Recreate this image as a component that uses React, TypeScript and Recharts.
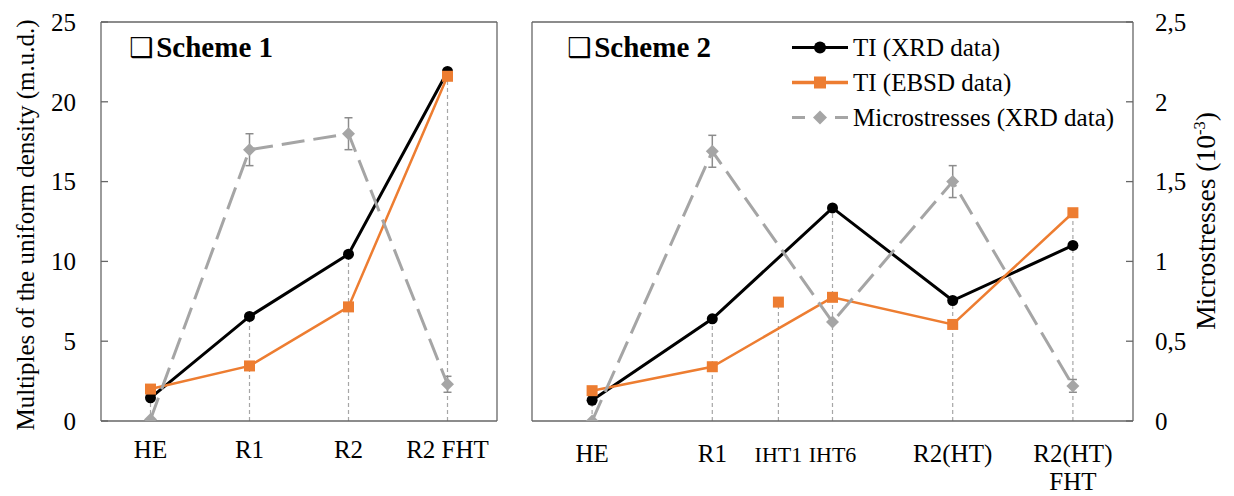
import React from 'react';
import { ComposedChart, Line, XAxis, YAxis, ReferenceLine, ErrorBar } from 'recharts';

const FONT = '"Liberation Serif", "Times New Roman", serif';
const FRAME = '#666666';
const BLACK = '#000000';
const ORANGE = '#ED7D31';
const GRAY = '#A5A5A5';
const DROP = '#A6A6A6';

// Scheme 1
const s1Labels = [['HE'], ['R1'], ['R2'], ['R2 FHT']];
const s1Pos = [0, 1, 2, 3];
const s1TiXrd = [1.45, 6.55, 10.45, 21.9];
const s1TiEbsd = [2.0, 3.45, 7.15, 21.6];
const s1Micro = [0.01, 1.7, 1.8, 0.23];
const s1MicroErr = [0, 0.1, 0.1, 0.05];

// Scheme 2 (IHT1 has only an EBSD value, not joined to the line)
const s2Labels = [['HE'], ['R1'], ['IHT1'], ['IHT6'], ['R2(HT)'], ['R2(HT)', 'FHT']];
const s2Pos = [0, 1, 1.55, 2, 3, 4];
const s2TiXrd = [1.3, 6.4, null, 13.35, 7.55, 11.0];
const s2TiEbsd = [1.9, 3.4, 7.45, 7.75, 6.05, 13.05];
const s2EbsdJoined = [true, true, false, true, true, true];
const s2Micro = [0.0, 1.69, null, 0.62, 1.5, 0.22];
const s2MicroErr = [0, 0.1, null, 0, 0.1, 0.04];

const tiTicks = [0, 5, 10, 15, 20, 25];
const msTicks = [0, 0.5, 1, 1.5, 2, 2.5];

type Pt = { x: number; y: number; e?: number };

const toPoints = (pos: number[], vals: (number | null)[], err?: (number | null)[], keep?: boolean[]): Pt[] =>
  pos
    .map((x, i) => ({ x, y: vals[i] as number, e: err ? (err[i] as number) : undefined, ok: keep ? keep[i] : true }))
    .filter((p) => p.y != null && p.ok)
    .map(({ x, y, e }) => ({ x, y, e }));

const dropPoints = (pos: number[], a: (number | null)[], b: (number | null)[]) =>
  pos.map((x, i) => ({ x, top: Math.max(a[i] ?? 0, b[i] ?? 0) }));

const circleDot = (props: any) => {
  const { cx, cy, index } = props;
  if (cx == null || cy == null) return <g key={index} />;
  return <circle key={index} cx={cx} cy={cy} r={5.5} fill={BLACK} />;
};

const squareDot = (props: any) => {
  const { cx, cy, index } = props;
  if (cx == null || cy == null) return <g key={index} />;
  return <rect key={index} x={cx - 5.5} y={cy - 5.5} width={11} height={11} fill={ORANGE} />;
};

const diamondDot = (props: any) => {
  const { cx, cy, index } = props;
  if (cx == null || cy == null) return <g key={index} />;
  const r = 6.5;
  return <polygon key={index} points={`${cx},${cy - r} ${cx + r},${cy} ${cx},${cy + r} ${cx - r},${cy}`} fill={GRAY} />;
};

const makeXTick = (labels: string[][], pos: number[], firstDy: number, small: string[] = []) => (props: any) => {
  const { x, y, payload } = props;
  const i = pos.indexOf(payload.value);
  if (i < 0) return <g />;
  const isSmall = small.includes(labels[i][0]);
  return (
    <text x={x} y={y} textAnchor="middle" fontFamily={FONT} fontSize={isSmall ? 22 : 25} fill="#000">
      {labels[i].map((t, k) => (
        <tspan key={k} x={x} dy={k === 0 ? firstDy : 28}>
          {t}
        </tspan>
      ))}
    </text>
  );
};

const commaFmt = (v: number) => String(v).replace('.', ',');

const yTick = { fontFamily: FONT, fontSize: 25, fill: '#000' };

function Panel(props: {
  left: number;
  width: number;
  leftAxisWidth: number;
  rightAxisWidth: number;
  showLeftLabels: boolean;
  showRightLabels: boolean;
  labels: string[][];
  pos: number[];
  domain: [number, number];
  xrd: (number | null)[];
  ebsd: (number | null)[];
  ebsdJoined?: boolean[];
  micro: (number | null)[];
  microErr: (number | null)[];
  labelDy: number;
  smallLabels?: string[];
}) {
  const xrdPts = toPoints(props.pos, props.xrd);
  const ebsdPts = toPoints(props.pos, props.ebsd, undefined, props.ebsdJoined);
  const ebsdLone = props.ebsdJoined
    ? toPoints(props.pos, props.ebsd, undefined, props.ebsdJoined.map((v) => !v))
    : [];
  const microPts = toPoints(props.pos, props.micro, props.microErr);
  const drops = dropPoints(props.pos, props.xrd, props.ebsd);

  return (
    <div style={{ position: 'absolute', left: props.left, top: 0 }}>
      <ComposedChart width={props.width} height={496} margin={{ top: 22, right: 0, bottom: 0, left: 0 }}>
        <XAxis
          dataKey="x"
          type="number"
          domain={props.domain}
          ticks={props.pos}
          interval={0}
          height={75}
          tickSize={0}
          tickLine={false}
          tickMargin={0}
          axisLine={{ stroke: FRAME, strokeWidth: 1.3 }}
          tick={makeXTick(props.labels, props.pos, props.labelDy, props.smallLabels)}
          allowDataOverflow
        />
        <YAxis
          yAxisId="ti"
          domain={[0, 25]}
          ticks={tiTicks}
          width={props.leftAxisWidth}
          axisLine={{ stroke: FRAME, strokeWidth: 1.3 }}
          tickLine={{ stroke: FRAME, strokeWidth: 1.3 }}
          tickSize={-7}
          tickMargin={32}
          tick={props.showLeftLabels ? yTick : false}
          allowDataOverflow
        />
        <YAxis
          yAxisId="ms"
          orientation="right"
          domain={[0, 2.5]}
          ticks={msTicks}
          width={props.rightAxisWidth}
          axisLine={{ stroke: FRAME, strokeWidth: 1.3 }}
          tickLine={{ stroke: FRAME, strokeWidth: 1.3 }}
          tickSize={-7}
          tickMargin={29}
          tickFormatter={commaFmt}
          tick={props.showRightLabels ? yTick : false}
          allowDataOverflow
        />
        <ReferenceLine yAxisId="ti" y={25} stroke={FRAME} strokeWidth={1.3} />
        {drops.map((d, i) => (
          <ReferenceLine
            key={i}
            yAxisId="ti"
            segment={[
              { x: d.x, y: 0 },
              { x: d.x, y: d.top },
            ]}
            stroke={DROP}
            strokeWidth={1.2}
            strokeDasharray="4 3"
          />
        ))}
        <Line
          yAxisId="ti"
          data={xrdPts}
          dataKey="y"
          stroke={BLACK}
          strokeWidth={3}
          dot={circleDot}
          isAnimationActive={false}
        />
        <Line
          yAxisId="ti"
          data={ebsdPts}
          dataKey="y"
          stroke={ORANGE}
          strokeWidth={2.5}
          dot={squareDot}
          isAnimationActive={false}
        />
        {ebsdLone.length > 0 && (
          <Line
            yAxisId="ti"
            data={ebsdLone}
            dataKey="y"
            stroke="none"
            dot={squareDot}
            isAnimationActive={false}
          />
        )}
        <Line
          yAxisId="ms"
          data={microPts}
          dataKey="y"
          stroke={GRAY}
          strokeWidth={3}
          strokeDasharray="23 9"
          dot={diamondDot}
          isAnimationActive={false}
        >
          <ErrorBar dataKey="e" width={4} stroke="#8c8c8c" strokeWidth={1.5} direction="y" />
        </Line>
      </ComposedChart>
    </div>
  );
}

function SchemeTitle({ left, text }: { left: number; text: string }) {
  return (
    <div
      style={{
        position: 'absolute',
        left,
        top: 47,
        transform: 'translateY(-50%)',
        fontFamily: FONT,
        fontWeight: 'bold',
        fontSize: 29,
        whiteSpace: 'nowrap',
        lineHeight: 1,
        display: 'flex',
        alignItems: 'center',
      }}
    >
      <span style={{ fontFamily: '"DejaVu Sans", sans-serif', fontWeight: 'normal', fontSize: 27, marginRight: 3 }}>❑</span>
      <span>{text}</span>
    </div>
  );
}

function LegendRow({ top, kind, text }: { top: number; kind: 'xrd' | 'ebsd' | 'ms'; text: string }) {
  return (
    <div
      style={{
        position: 'absolute',
        left: 792,
        top,
        transform: 'translateY(-50%)',
        display: 'flex',
        alignItems: 'center',
        fontFamily: FONT,
        fontSize: 25,
        whiteSpace: 'nowrap',
        lineHeight: 1,
      }}
    >
      <svg width={56} height={20} style={{ marginRight: 5 }}>
        {kind === 'xrd' && (
          <>
            <line x1={0} y1={10} x2={56} y2={10} stroke={BLACK} strokeWidth={3} />
            <circle cx={28} cy={10} r={6} fill={BLACK} />
          </>
        )}
        {kind === 'ebsd' && (
          <>
            <line x1={0} y1={10} x2={56} y2={10} stroke={ORANGE} strokeWidth={3.5} />
            <rect x={22} y={4} width={12} height={12} fill={ORANGE} />
          </>
        )}
        {kind === 'ms' && (
          <>
            <line x1={0} y1={10} x2={13} y2={10} stroke={GRAY} strokeWidth={3} />
            <line x1={43} y1={10} x2={56} y2={10} stroke={GRAY} strokeWidth={3} />
            <polygon points="28,3 35,10 28,17 21,10" fill={GRAY} />
          </>
        )}
      </svg>
      <span>{text}</span>
    </div>
  );
}

export default function App() {
  return (
    <div style={{ position: 'absolute', left: 0, top: 0, width: 1234, height: 496, background: '#fff', overflow: 'hidden' }}>
      <Panel
        left={0}
        width={520}
        leftAxisWidth={101}
        rightAxisWidth={23}
        showLeftLabels
        showRightLabels={false}
        labels={s1Labels}
        pos={s1Pos}
        domain={[-0.5, 3.5]}
        xrd={s1TiXrd}
        ebsd={s1TiEbsd}
        micro={s1Micro}
        microErr={s1MicroErr}
        labelDy={37}
      />
      <Panel
        left={520}
        width={714}
        leftAxisWidth={12}
        rightAxisWidth={101}
        showLeftLabels={false}
        showRightLabels
        labels={s2Labels}
        pos={s2Pos}
        domain={[-0.5, 4.5]}
        xrd={s2TiXrd}
        ebsd={s2TiEbsd}
        ebsdJoined={s2EbsdJoined}
        micro={s2Micro}
        microErr={s2MicroErr}
        labelDy={41}
        smallLabels={['IHT1', 'IHT6']}
      />
      <SchemeTitle left={129} text="Scheme 1" />
      <SchemeTitle left={567} text="Scheme 2" />
      <LegendRow top={47} kind="xrd" text="TI (XRD data)" />
      <LegendRow top={82} kind="ebsd" text="TI (EBSD data)" />
      <LegendRow top={117} kind="ms" text="Microstresses (XRD data)" />
      <div
        style={{
          position: 'absolute',
          left: 25,
          top: 225,
          transform: 'translate(-50%, -50%) rotate(-90deg)',
          fontFamily: FONT,
          fontSize: 25,
          whiteSpace: 'nowrap',
          lineHeight: 1,
        }}
      >
        Multiples of the uniform density (m.u.d.)
      </div>
      <div
        style={{
          position: 'absolute',
          left: 1206,
          top: 221,
          transform: 'translate(-50%, -50%) rotate(-90deg)',
          fontFamily: FONT,
          fontSize: 27.5,
          whiteSpace: 'nowrap',
          lineHeight: 1,
        }}
      >
        Microstresses (10<sup style={{ fontSize: '0.6em', verticalAlign: '0.6em', lineHeight: 0 }}>-3</sup>)
      </div>
    </div>
  );
}
